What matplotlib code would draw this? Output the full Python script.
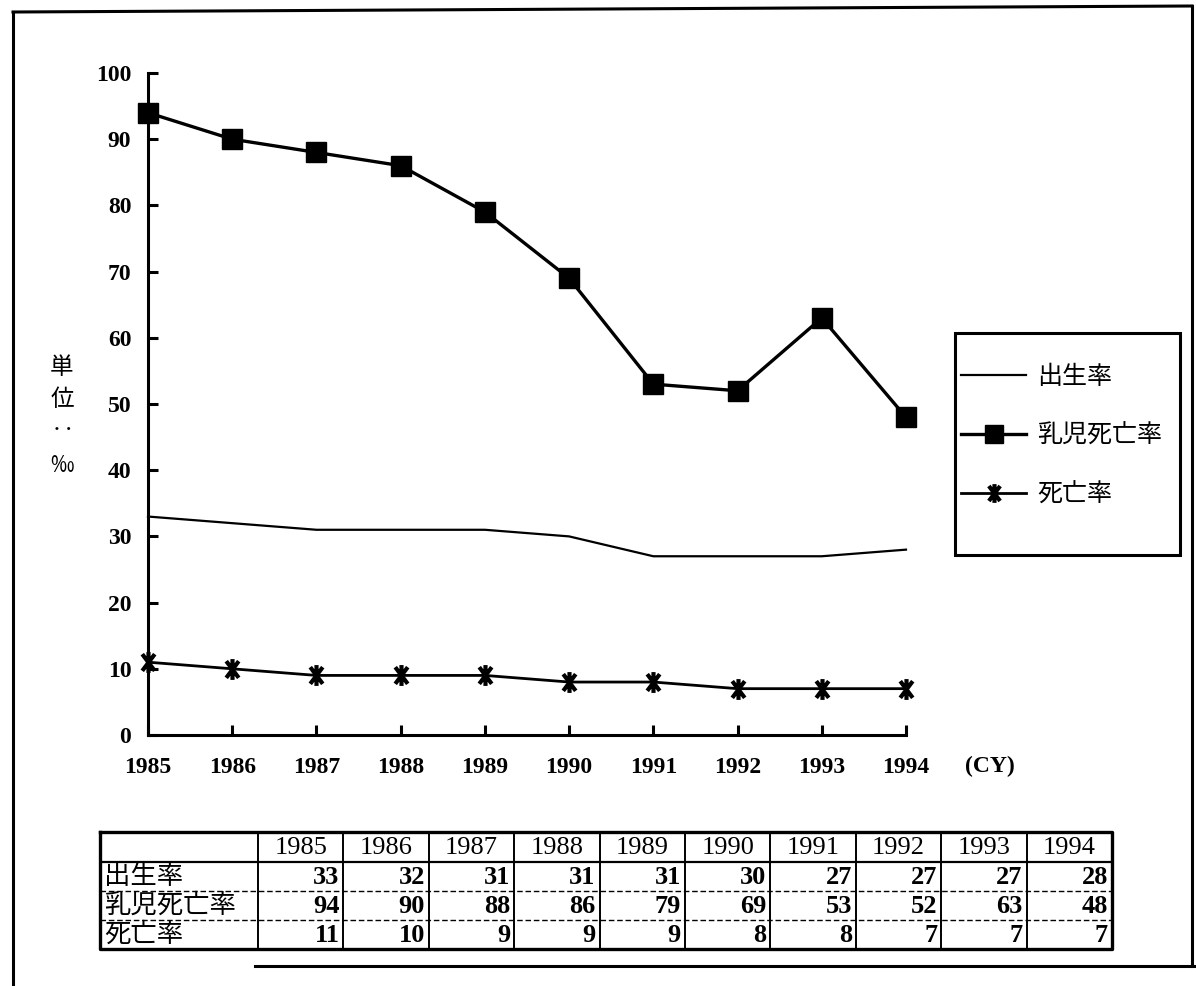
import matplotlib.pyplot as plt
from matplotlib.lines import Line2D
from matplotlib.patches import Rectangle
from matplotlib.path import Path

plt.rcParams["font.family"] = ["Liberation Serif", "Noto Sans CJK JP", "DejaVu Sans"]

years = [1985, 1986, 1987, 1988, 1989, 1990, 1991, 1992, 1993, 1994]
birth_rate = [33, 32, 31, 31, 31, 30, 27, 27, 27, 28]
infant_mortality = [94, 90, 88, 86, 79, 69, 53, 52, 63, 48]
death_rate = [11, 10, 9, 9, 9, 8, 8, 7, 7, 7]

series_names = ["出生率", "乳児死亡率", "死亡率"]
y_ticks = [0, 10, 20, 30, 40, 50, 60, 70, 80, 90, 100]

CJK = ["Noto Sans CJK JP", "DejaVu Sans"]
SERIF = ["Liberation Serif", "DejaVu Serif"]

W, H = 1196, 986
fig = plt.figure(figsize=(W / 100, H / 100), dpi=100)


def fx(px):
    return px / W


def fy(py):
    return 1 - py / H


# asterisk marker: an X crossed by a vertical stroke
asterisk = Path(
    [(0, -1), (0, 1), (-0.6, -0.8), (0.6, 0.8), (-0.6, 0.8), (0.6, -0.8)],
    [Path.MOVETO, Path.LINETO, Path.MOVETO, Path.LINETO, Path.MOVETO, Path.LINETO],
)

# outer frame of the figure
frame = dict(color="black", lw=2.2, transform=fig.transFigure)
fig.add_artist(Line2D([fx(13), fx(13)], [fy(12), fy(986)], **frame))
fig.add_artist(Line2D([fx(13), fx(1192)], [fy(12), fy(6)], **frame))
fig.add_artist(Line2D([fx(1192), fx(1192)], [fy(6), fy(966)], **frame))
fig.add_artist(Line2D([fx(255), fx(1196)], [fy(966), fy(966)], **frame))

# main line chart
ax = fig.add_axes([fx(148), fy(735), fx(906 - 148), fy(73) - fy(735)])
ax.plot(years, birth_rate, color="black", lw=1.6, label=series_names[0], clip_on=False)
ax.plot(years, infant_mortality, color="black", lw=2.4, marker="s", markersize=14,
        label=series_names[1], clip_on=False)
ax.plot(years, death_rate, color="black", lw=2.0, marker=asterisk, markersize=15,
        markeredgewidth=3.0, label=series_names[2], clip_on=False)

ax.set_xlim(1985, 1994)
ax.set_ylim(0, 100)
ax.set_xticks(years)
ax.set_yticks(y_ticks)
for side in ["top", "right"]:
    ax.spines[side].set_visible(False)
for side in ["left", "bottom"]:
    ax.spines[side].set_linewidth(2.2)
ax.tick_params(axis="both", direction="in", length=7, width=2.2, labelsize=17)
ax.tick_params(axis="y", pad=12)
ax.tick_params(axis="x", pad=16)
for lab in ax.get_xticklabels() + ax.get_yticklabels():
    lab.set_fontweight("bold")
    lab.set_family(SERIF)

fig.text(fx(990), fy(766), "(CY)", ha="center", va="center", fontsize=17,
         fontweight="bold", family=SERIF)

# vertical unit label
for ch, py in zip(["単", "位", "‥", "‰"], [367, 400, 430, 466]):
    fig.text(fx(62), fy(py), ch, ha="center", va="center", fontsize=17, family=CJK)

# legend: box drawn separately, entries placed inside it
fig.add_artist(Rectangle((fx(955), fy(555)), fx(1180 - 955), fy(333) - fy(555),
                         fill=False, edgecolor="black", lw=2.2,
                         transform=fig.transFigure))
leg = ax.legend(loc="upper left", bbox_to_anchor=(fx(961), fy(364)),
                bbox_transform=fig.transFigure, frameon=False,
                prop={"family": CJK, "size": 18},
                handlelength=2.6, handletextpad=0.45, labelspacing=1.32,
                borderpad=0, borderaxespad=0, markerscale=0.9)

# data table beneath the chart
tab = fig.add_axes([fx(100), fy(949), fx(1112 - 100), fy(832) - fy(949)])
tab.set_xlim(100, 1112)
tab.set_ylim(949, 832)
tab.axis("off")
first_w = 158
col_w = (1112 - 100 - first_w) / len(years)
row_edges = [832, 862, 891, 920, 949]
col_edges = [100, 100 + first_w] + [100 + first_w + col_w * (i + 1) for i in range(len(years))]

tab.plot([100, 1112, 1112, 100, 100], [832, 832, 949, 949, 832], color="black", lw=2.4,
         clip_on=False)
tab.plot([100, 1112], [862, 862], color="black", lw=1.6)
for y in row_edges[2:4]:
    tab.plot([100, 1112], [y, y], color="black", lw=1.0, ls=(0, (4, 2)))
for x in col_edges[1:-1]:
    tab.plot([x, x], [832, 949], color="black", lw=1.4)

for i, yr in enumerate(years):
    cx = (col_edges[i + 1] + col_edges[i + 2]) / 2
    tab.text(cx, 848, str(yr), ha="center", va="center", fontsize=19, family=SERIF)

rows = [birth_rate, infant_mortality, death_rate]
for r, (name, vals) in enumerate(zip(series_names, rows)):
    cy = (row_edges[r + 1] + row_edges[r + 2]) / 2
    tab.text(104, cy, name, ha="left", va="center", fontsize=19, family=CJK)
    for i, v in enumerate(vals):
        tab.text(col_edges[i + 2] - 4, cy + 1, str(v), ha="right", va="center",
                 fontsize=19, fontweight="bold", family=SERIF)

fig.savefig("out.png", dpi=100)
